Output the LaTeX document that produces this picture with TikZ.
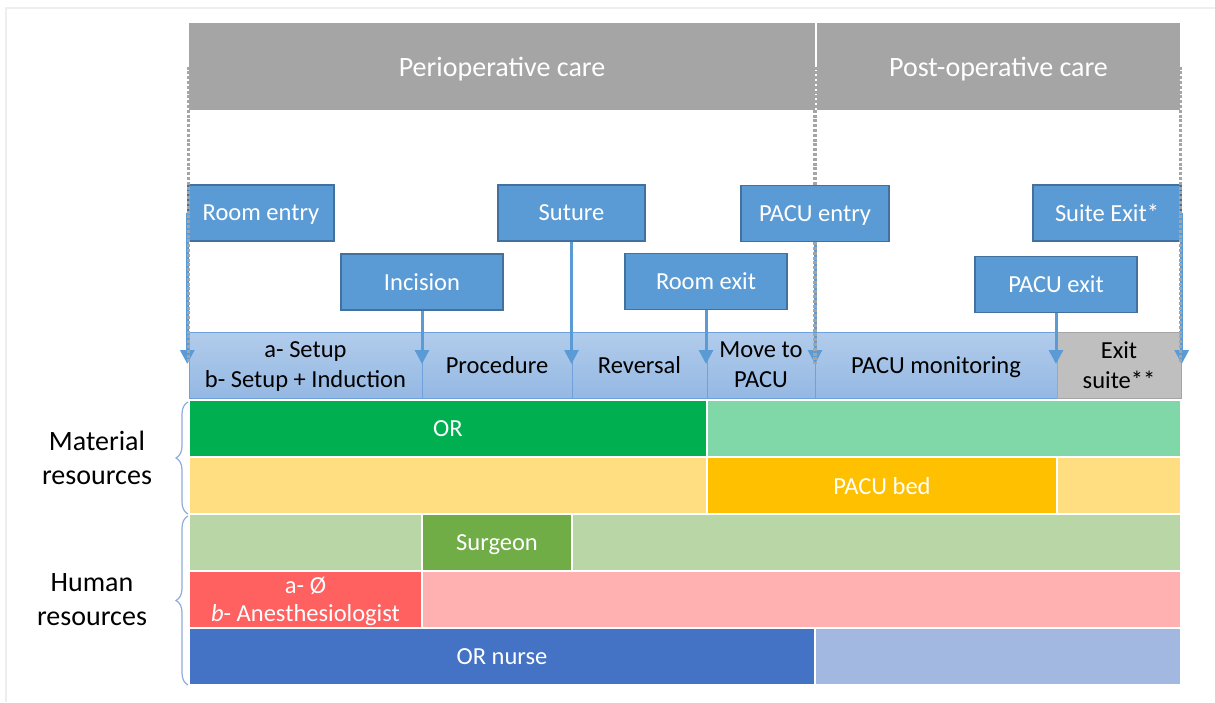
\documentclass[tikz,border=0pt]{standalone}
\usepackage{fontspec}
\setmainfont{Carlito}
\usetikzlibrary{arrows.meta,decorations.pathreplacing}

\definecolor{hdrgray}{HTML}{A5A5A5}
\definecolor{evblue}{HTML}{5B9BD5}
\definecolor{evborder}{HTML}{41719C}
\definecolor{phtop}{HTML}{B2CCEB}
\definecolor{phbot}{HTML}{94B8E3}
\definecolor{phline}{HTML}{6FA1DC}
\definecolor{exitgray}{HTML}{BFBFBF}
\definecolor{orgreen}{HTML}{00B050}
\definecolor{orlight}{HTML}{80D7A8}
\definecolor{bedgold}{HTML}{FFC000}
\definecolor{bedlight}{HTML}{FFDE81}
\definecolor{surggreen}{HTML}{70AD47}
\definecolor{surglight}{HTML}{B9D7A6}
\definecolor{anered}{HTML}{FF6161}
\definecolor{anelight}{HTML}{FFB1B1}
\definecolor{nurseblue}{HTML}{4472C4}
\definecolor{nurselight}{HTML}{A2B8E1}
\definecolor{braceblue}{HTML}{8FAADC}
\definecolor{framegray}{HTML}{EEEEEE}

\tikzset{
  hdr/.style={fill=hdrgray, text=white, minimum height=43.5pt, inner sep=0pt,
    text depth=0pt, font=\fontsize{14}{17}\selectfont},
  event/.style={fill=evblue, draw=evborder, line width=0.7pt, text=white,
    minimum height=28pt, inner sep=0pt, text depth=0pt,
    font=\fontsize{12.25}{15}\selectfont},
  phase/.style={top color=phtop, bottom color=phbot, draw=phline, line width=0.5pt,
    minimum height=33pt, inner sep=0pt, text depth=0pt, align=center,
    font=\fontsize{12.25}{15}\selectfont},
  res/.style={draw=white, line width=1pt, minimum height=28.5pt, inner sep=0pt,
    text depth=0pt, text=white, align=center, font=\fontsize{12.25}{14}\selectfont},
  side/.style={align=center, font=\fontsize{14}{17}\selectfont},
  evarrow/.style={draw=evblue, line width=1.5pt, -{Triangle[width=7pt,length=7pt]}},
  guide/.style={draw=hdrgray, line width=1.6pt, dash pattern=on 1.5pt off 0.9pt},
  resbrace/.style={draw=braceblue, line width=0.6pt, decorate,
    decoration={brace, amplitude=6pt}},
}

\begin{document}
\begin{tikzpicture}[x=0.5pt,y=-0.5pt]
\useasboundingbox (0,0) rectangle (1215,702);
\draw[framegray, line width=1pt] (6,702) -- (6,8) -- (1215,8);

% care headers
\node[hdr, minimum width=313pt] (periop) at (502,66.5) {Perioperative care};
\node[hdr, minimum width=181.5pt] (postop) at (998.5,66.5) {Post-operative care};

% phases
\node[phase, minimum width=116.5pt] (setup) at (305.5,365) {a- Setup\\b- Setup + Induction};
\node[phase, minimum width=75pt] (procedure) at (497,365) {Procedure};
\node[phase, minimum width=67.5pt] (reversal) at (639.5,365) {Reversal};
\node[phase, minimum width=54pt] (move) at (761,365) {Move to\\PACU};
\node[phase, minimum width=121pt] (pacumon) at (936,365) {PACU monitoring};
\node[phase, top color=exitgray, bottom color=exitgray, draw=hdrgray,
  minimum width=62pt] (exitsuite) at (1119,365) {Exit\\suite**};

% material resources
\node[res, fill=orgreen, minimum width=259pt] (or) at (448,428.5) {OR};
\node[res, fill=orlight, minimum width=237pt] (orrest) at (944,428.5) {};
\node[res, fill=bedlight, minimum width=259pt] (bedpre) at (448,485.5) {};
\node[res, fill=bedgold, minimum width=175pt] (bed) at (882,485.5) {PACU bed};
\node[res, fill=bedlight, minimum width=62pt] (bedpost) at (1119,485.5) {};

% human resources
\node[res, fill=surglight, minimum width=116.5pt] (surgpre) at (305.5,542.5) {};
\node[res, fill=surggreen, minimum width=75pt] (surgeon) at (497,542.5) {Surgeon};
\node[res, fill=surglight, minimum width=304.5pt] (surgpost) at (876.5,542.5) {};
\node[res, fill=anered, minimum width=116.5pt] (anest) at (305.5,599.5) {a- Ø\\\textit{b}- Anesthesiologist};
\node[res, fill=anelight, minimum width=379.5pt] (anestpost) at (801.5,599.5) {};
\node[res, fill=nurseblue, minimum width=313pt] (nurse) at (502,656.5) {OR nurse};
\node[res, fill=nurselight, minimum width=183pt] (nursepost) at (998,656.5) {};

\draw[resbrace] (188,514) -- (188,402);
\draw[resbrace] (188,685) -- (188,516);
\node[side] (matlabel) at (97,458) {Material\\resources};
\node[side] (humlabel) at (92,600) {Human\\resources};

% events
\node[event, minimum width=73pt] (roomentry) at (261,213) {Room entry};
\node[event, minimum width=81pt] (incision) at (422,282) {Incision};
\node[event, minimum width=73.5pt] (suture) at (571.5,213) {Suture};
\node[event, minimum width=81pt] (roomexit) at (706,281.5) {Room exit};
\node[event, minimum width=74pt] (pacuentry) at (815,213.5) {PACU entry};
\node[event, minimum width=81pt] (pacuexit) at (1056,284.5) {PACU exit};
\node[event, minimum width=74pt] (suiteexit) at (1107,213) {Suite Exit*};

\coordinate (tip) at (0,364);
\draw[evarrow] (roomentry.west) -- (roomentry.west |- tip);
\draw[evarrow] (incision.south) -- (incision.south |- tip);
\draw[evarrow] (suture.south) -- (suture.south |- tip);
\draw[evarrow] (roomexit.south) -- (roomexit.south |- tip);
\draw[evarrow] (pacuentry.south) -- (pacuentry.south |- tip);
\draw[evarrow] (pacuexit.south) -- (pacuexit.south |- tip);
\draw[evarrow] (suiteexit.east) -- (suiteexit.east |- tip);

% dotted guides
\draw[guide] (periop.west) -- (periop.west |- tip);
\draw[guide] (pacuentry.north |- postop.west) -- (pacuentry.north);
\draw[guide] (pacuentry.south) -- (pacuentry.south |- tip);
\draw[guide] (postop.east) -- (postop.east |- tip);
\end{tikzpicture}
\end{document}
